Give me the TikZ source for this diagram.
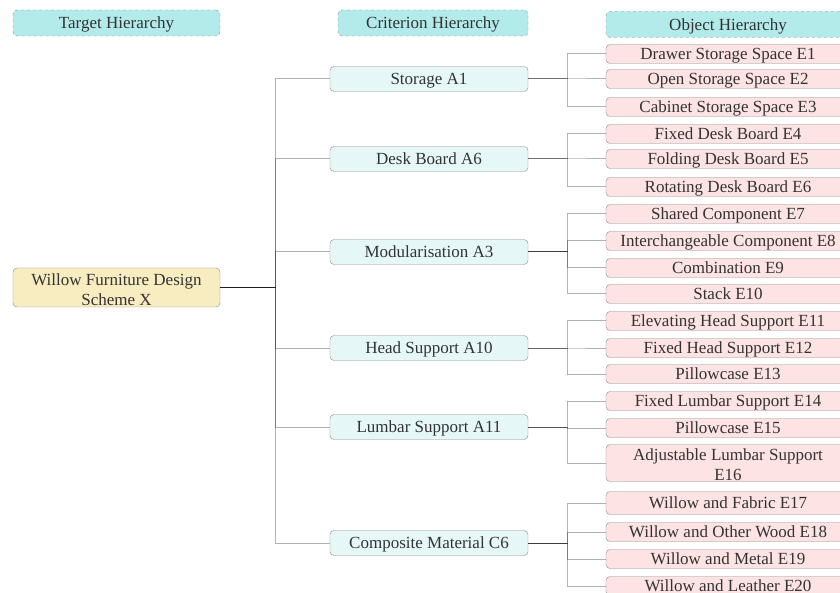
\documentclass[tikz,border=0pt]{standalone}
\usepackage{fontspec}
\setmainfont{Liberation Serif}
\usepackage{xcolor}
\usepackage{tikz}
\usetikzlibrary{positioning}
\definecolor{headfill}{RGB}{179,235,235}
\definecolor{critfill}{RGB}{230,247,247}
\definecolor{objfill}{RGB}{253,227,227}
\definecolor{rootfill}{RGB}{248,237,192}
\definecolor{edgegray}{RGB}{138,138,138}
\definecolor{inkgray}{RGB}{51,51,51}

\begin{document}
\begin{tikzpicture}[
    x=1pt, y=-1pt,
    box/.style={rectangle, draw=edgegray, rounded corners=4pt, inner sep=0pt, text=inkgray, font=\fontsize{17}{20}\selectfont, align=center, text height=11.3pt, text depth=0pt},
    header/.style={box, dashed, fill=headfill, minimum height=26pt},
    rootbox/.style={box, fill=rootfill, minimum width=207pt, minimum height=39pt, text height=36.3pt},
    crit/.style={box, fill=critfill, minimum width=198pt, minimum height=25pt},
    obj/.style={box, fill=objfill, minimum width=244pt, minimum height=19pt},
    link/.style={draw=black, draw opacity=0.3, line width=1pt}
]
\useasboundingbox (0,0) rectangle (840,593);

% level headers
\node[header, minimum width=207pt] (tgt) at (116.5, 23) {Target Hierarchy};
\node[header, minimum width=190pt] (crt) at (433, 23) {Criterion Hierarchy};
\node[header, minimum width=244pt] (objh) at (728, 24.5) {Object Hierarchy};

% target
\node[rootbox] (root) at (116.5, 287.5) {Willow Furniture Design\\Scheme X};

% criteria
\node[crit] (a1) at (429, 79) {Storage A1};
\node[crit] (a6) at (429, 159) {Desk Board A6};
\node[crit] (a3) at (429, 252) {Modularisation A3};
\node[crit] (a10) at (429, 348) {Head Support A10};
\node[crit] (a11) at (429, 427) {Lumbar Support A11};
\node[crit] (c6) at (429, 543) {Composite Material C6};

% objects
\node[obj] (e1) at (728, 54) {Drawer Storage Space E1};
\node[obj] (e2) at (728, 79) {Open Storage Space E2};
\node[obj] (e3) at (728, 107) {Cabinet Storage Space E3};
\node[obj] (e4) at (728, 134) {Fixed Desk Board E4};
\node[obj] (e5) at (728, 159) {Folding Desk Board E5};
\node[obj] (e6) at (728, 187) {Rotating Desk Board E6};
\node[obj] (e7) at (728, 214) {Shared Component E7};
\node[obj] (e8) at (728, 241) {Interchangeable Component E8};
\node[obj] (e9) at (728, 268) {Combination E9};
\node[obj] (e10) at (728, 294) {Stack E10};
\node[obj] (e11) at (728, 321) {Elevating Head Support E11};
\node[obj] (e12) at (728, 348) {Fixed Head Support E12};
\node[obj] (e13) at (728, 374) {Pillowcase E13};
\node[obj] (e14) at (728, 401) {Fixed Lumbar Support E14};
\node[obj] (e15) at (728, 428) {Pillowcase E15};
\node[obj, minimum height=37pt, text height=35.2pt] (e16) at (728, 463) {Adjustable Lumbar Support\\E16};
\node[obj, minimum height=23pt] (e17) at (728, 503) {Willow and Fabric E17};
\node[obj] (e18) at (728, 532) {Willow and Other Wood E18};
\node[obj] (e19) at (728, 559) {Willow and Metal E19};
\node[obj] (e20) at (728, 586) {Willow and Leather E20};

% target -> criteria
\draw[link] (root.east) -- ++(55,0) |- (a1.west);
\draw[link] (root.east) -- ++(55,0) |- (a6.west);
\draw[link] (root.east) -- ++(55,0) |- (a3.west);
\draw[link] (root.east) -- ++(55,0) |- (a10.west);
\draw[link] (root.east) -- ++(55,0) |- (a11.west);
\draw[link] (root.east) -- ++(55,0) |- (c6.west);

% criteria -> objects
\draw[link] (a1.east) -- ++(39,0) |- (e1.west);
\draw[link] (a1.east) -- ++(39,0) |- (e2.west);
\draw[link] (a1.east) -- ++(39,0) |- (e3.west);
\draw[link] (a6.east) -- ++(39,0) |- (e4.west);
\draw[link] (a6.east) -- ++(39,0) |- (e5.west);
\draw[link] (a6.east) -- ++(39,0) |- (e6.west);
\draw[link] (a3.east) -- ++(39,0) |- (e7.west);
\draw[link] (a3.east) -- ++(39,0) |- (e8.west);
\draw[link] (a3.east) -- ++(39,0) |- (e9.west);
\draw[link] (a3.east) -- ++(39,0) |- (e10.west);
\draw[link] (a10.east) -- ++(39,0) |- (e11.west);
\draw[link] (a10.east) -- ++(39,0) |- (e12.west);
\draw[link] (a10.east) -- ++(39,0) |- (e13.west);
\draw[link] (a11.east) -- ++(39,0) |- (e14.west);
\draw[link] (a11.east) -- ++(39,0) |- (e15.west);
\draw[link] (a11.east) -- ++(39,0) |- (e16.west);
\draw[link] (c6.east) -- ++(39,0) |- (e17.west);
\draw[link] (c6.east) -- ++(39,0) |- (e18.west);
\draw[link] (c6.east) -- ++(39,0) |- (e19.west);
\draw[link] (c6.east) -- ++(39,0) |- (e20.west);
\end{tikzpicture}
\end{document}
